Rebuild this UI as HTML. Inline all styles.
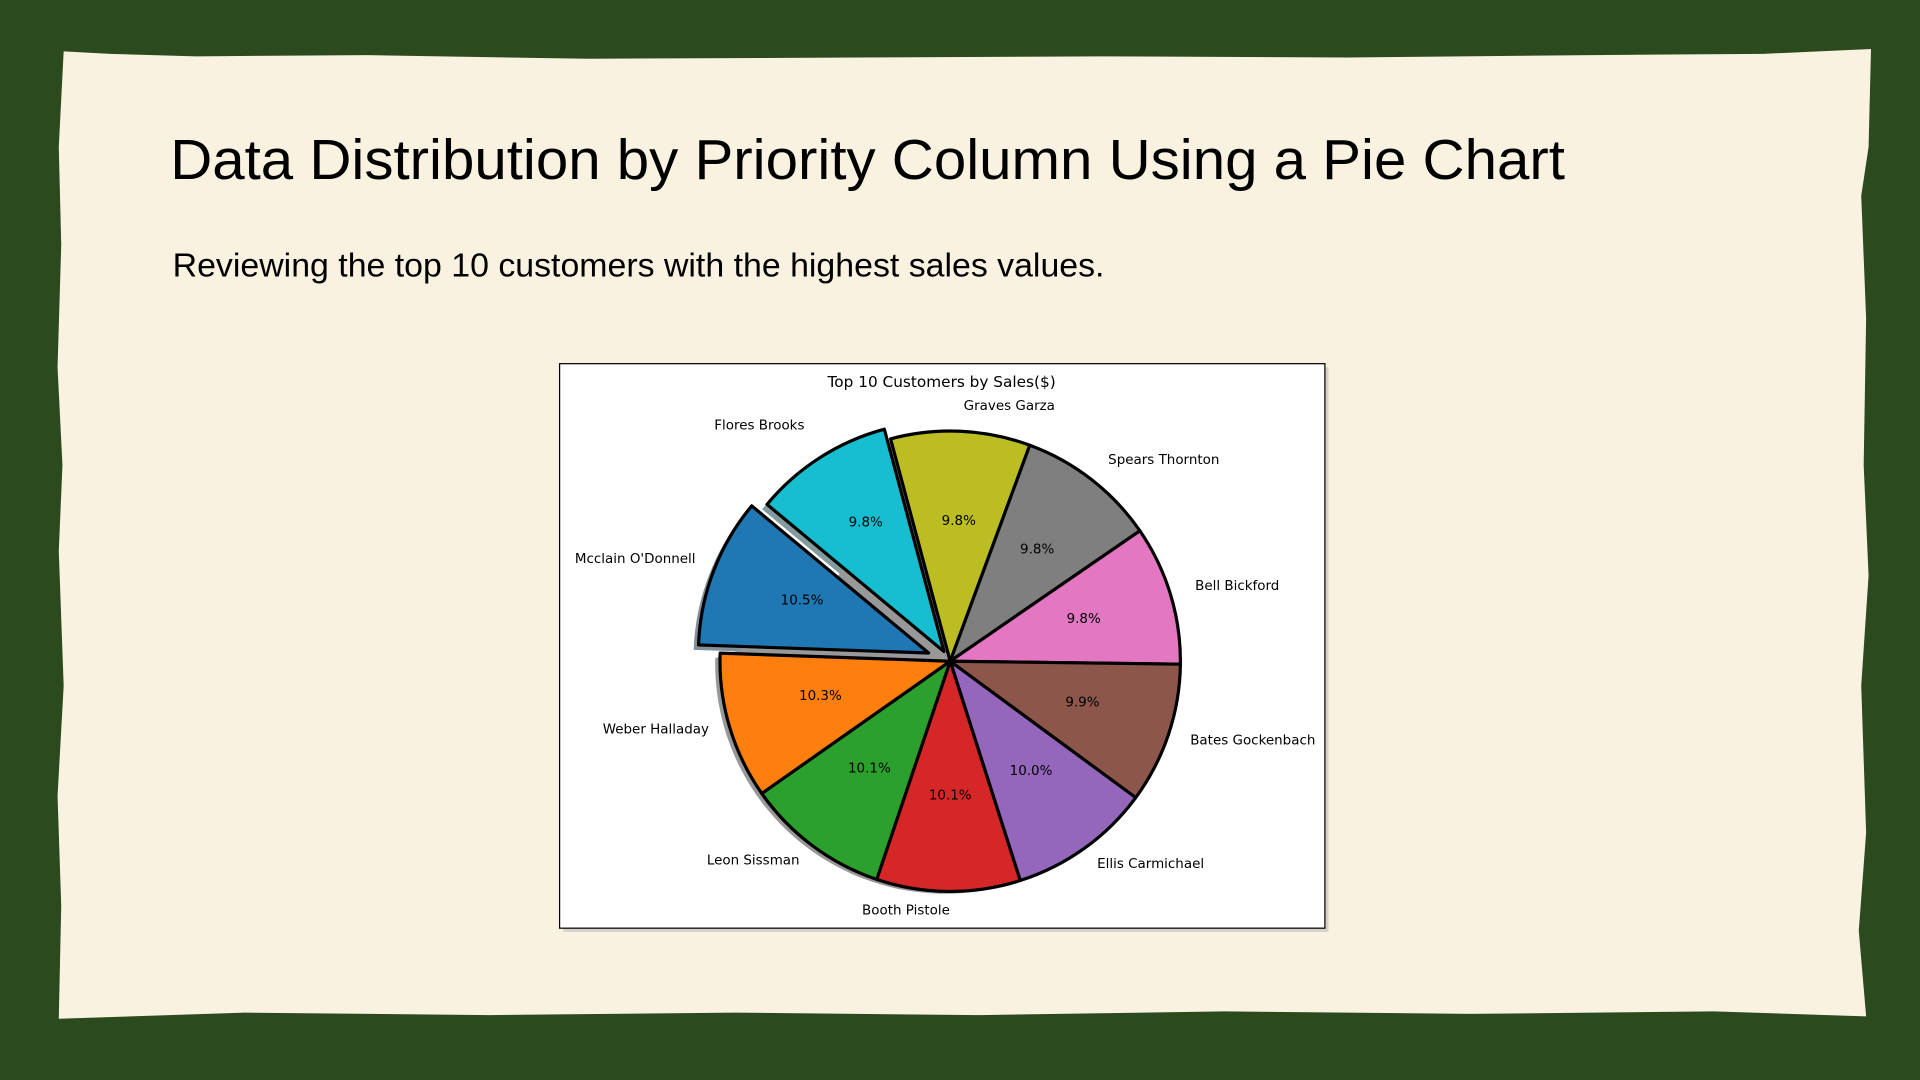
<!DOCTYPE html>
<html><head><meta charset="utf-8"><style>
html,body{margin:0;padding:0;background:#2b4a1e;}
svg{display:block;}
text{font-family:"DejaVu Sans","Liberation Sans",sans-serif;}
.t{font-family:"Liberation Sans",sans-serif;}
</style></head><body>
<svg width="1920" height="1080" viewBox="0 0 1568 882" xmlns="http://www.w3.org/2000/svg">
<rect width="1568" height="882" fill="#2b4a1e"/>
<polygon fill="#faf2e1" points="52,42 90,44 160,46 300,45 480,48 700,47 900,46 1100,47 1300,45 1440,44 1528,40 1526,120 1520,160 1524,260 1522,380 1526,470 1520,560 1524,680 1518,760 1524,830 1400,826 1200,828 1000,826 800,829 600,827 400,829 200,827 48,832 50,740 47,650 52,560 48,450 51,380 47,300 50,200 48,120"/>
<text class="t" x="139" y="146" font-size="46" textLength="1139" lengthAdjust="spacingAndGlyphs" fill="#000">Data Distribution by Priority Column Using a Pie Chart</text>
<text class="t" x="141" y="226" font-size="27" textLength="761" lengthAdjust="spacingAndGlyphs" fill="#000">Reviewing the top 10 customers with the highest sales values.</text>
<rect x="460" y="300" width="625" height="461" fill="#bbb" opacity="0.6"/>
<rect x="457" y="297" width="625" height="461" fill="#fff" stroke="#000" stroke-width="1"/>
<text x="769" y="316" font-size="12.5" text-anchor="middle">Top 10 Customers by Sales($)</text>
<g opacity="0.5" transform="translate(-4,4)">
<path transform="translate(-17.6,-6.7)" d="M776,540 L588.1,533.4 A188,188 0 0 1 631.5,419.8 Z" fill="#0a2436"/>
<path transform="translate(-5.1,-7.9)" d="M776,540 L631.5,419.8 A188,188 0 0 1 727.3,358.4 Z" fill="#073a3e"/>
<path d="M776,540 L727.3,358.4 A188,188 0 0 1 588.1,533.4 Z" fill="#333"/>
<path d="M776,540 L588.1,533.4 A188,188 0 0 1 727.3,358.4 Z" fill="#333" transform="rotate(0)" opacity="0"/>
<circle cx="776" cy="540" r="188" fill="#333" opacity="0"/>
<path d="M776,540 L964,542.4 A188,188 0 0 1 588.1,533.4 Z" fill="#333"/>
<path d="M776,540 L727.3,358.4 A188,188 0 0 1 964,542.4 Z" fill="#333"/>
</g>
<g stroke="#000" stroke-width="2.6" stroke-linejoin="round">
<path transform="translate(-17.6,-6.7)" d="M776,540 L588.1,533.4 A188,188 0 0 1 631.5,419.8 Z" fill="#1f77b4"/>
<path transform="translate(-5.1,-7.9)" d="M776,540 L631.5,419.8 A188,188 0 0 1 727.3,358.4 Z" fill="#17becf"/>
<path d="M776,540 L727.3,358.4 A188,188 0 0 1 841,363.6 Z" fill="#bcbd22"/>
<path d="M776,540 L841,363.6 A188,188 0 0 1 930.9,433.5 Z" fill="#7f7f7f"/>
<path d="M776,540 L930.9,433.5 A188,188 0 0 1 964,542.4 Z" fill="#e377c2"/>
<path d="M776,540 L964,542.4 A188,188 0 0 1 927.5,651.4 Z" fill="#8c564b"/>
<path d="M776,540 L927.5,651.4 A188,188 0 0 1 833.2,719.1 Z" fill="#9467bd"/>
<path d="M776,540 L833.2,719.1 A188,188 0 0 1 716,718.2 Z" fill="#d62728"/>
<path d="M776,540 L716,718.2 A188,188 0 0 1 622.1,648 Z" fill="#2ca02c"/>
<path d="M776,540 L622.1,648 A188,188 0 0 1 588.1,533.4 Z" fill="#ff7f0e"/>
</g>
<g font-size="11" text-anchor="middle" dominant-baseline="central">
<text x="707" y="427">9.8%</text>
<text x="783" y="426">9.8%</text>
<text x="847" y="449">9.8%</text>
<text x="655" y="491">10.5%</text>
<text x="885" y="506">9.8%</text>
<text x="670" y="569">10.3%</text>
<text x="884" y="574">9.9%</text>
<text x="710" y="628">10.1%</text>
<text x="776" y="650">10.1%</text>
<text x="842" y="630">10.0%</text>
</g>
<g font-size="11" dominant-baseline="central">
<text x="657" y="348" text-anchor="end">Flores Brooks</text>
<text x="787" y="332">Graves Garza</text>
<text x="905" y="376">Spears Thornton</text>
<text x="568" y="457" text-anchor="end">Mcclain O'Donnell</text>
<text x="976" y="479">Bell Bickford</text>
<text x="579" y="596" text-anchor="end">Weber Halladay</text>
<text x="972" y="605">Bates Gockenbach</text>
<text x="653" y="703" text-anchor="end">Leon Sissman</text>
<text x="704" y="744">Booth Pistole</text>
<text x="896" y="706">Ellis Carmichael</text>
</g>
</svg>
</body></html>
